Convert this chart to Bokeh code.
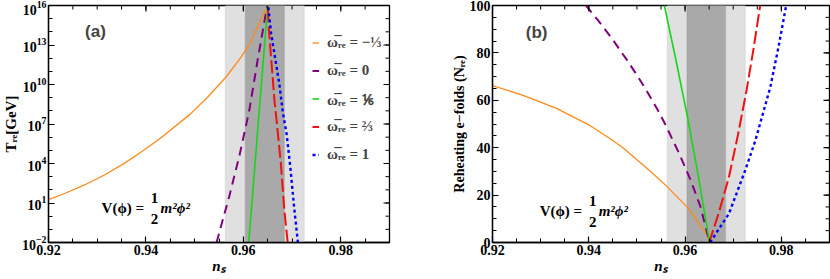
import numpy as np
from bokeh.plotting import figure
from bokeh.models import (FixedTicker, Label, Legend, LegendItem, BoxAnnotation, Range1d)
from bokeh.layouts import row
from bokeh.embed import file_html
from bokeh.resources import INLINE

# ---------------- data ----------------
band_2sigma = [0.9563, 0.9725]
band_1sigma = [0.9604, 0.9684]

# panel (a): log10(T_re / GeV) vs n_s
a_m13_ns = [0.9200, 0.9234, 0.9274, 0.9314, 0.9354, 0.9394, 0.9431, 0.9491, 0.9527, 0.9564,
            0.9594, 0.9614, 0.9650, 0.9656]
a_m13_logT = [1.25, 1.74, 2.37, 3.11, 3.97, 4.97, 5.96, 7.75, 9.05, 10.55, 12.0, 13.15, 16.0, 16.5]
a_0_ns = [0.9545, 0.9571, 0.9592, 0.9612, 0.9630, 0.9649]
a_0_logT = [-2.0, 1.5, 4.6, 8.0, 12.0, 16.0]
a_16_ns = [0.9611, 0.9650]
a_16_logT = [-2.0, 16.0]
a_23_ns = [0.9691, 0.9684, 0.9677, 0.9669, 0.9664, 0.9652, 0.9650]
a_23_logT = [-2.0, 0.5, 4.0, 7.0, 8.7, 14.4, 16.0]
a_1_ns = [0.9712, 0.9704, 0.9697, 0.9689, 0.9681, 0.9674, 0.9657, 0.9651]
a_1_logT = [-2.0, 0.75, 3.5, 6.2, 7.9, 10.0, 13.9, 16.0]

# panel (b): reheating e-folds vs n_s
b_m13_ns = [0.9200, 0.9265, 0.9333, 0.9402, 0.9443, 0.9471, 0.9526, 0.9560, 0.9608, 0.9646, 0.9651]
b_m13_N = [66.2, 62.0, 56.6, 49.4, 44.0, 40.0, 30.4, 24.1, 14.2, 3.0, 0.0]
b_0_ns = [0.9394, 0.9423, 0.9450, 0.9478, 0.9502, 0.9522, 0.9543, 0.9560, 0.9588, 0.9612, 0.9632, 0.9651]
b_0_N = [100.0, 92.8, 85.5, 77.4, 70.0, 63.4, 56.0, 49.4, 37.4, 26.1, 15.1, 0.0]
b_16_ns = [0.9557, 0.9581, 0.9605, 0.9628, 0.9651]
b_16_N = [100.0, 77.0, 53.0, 27.5, 0.0]
b_23_ns = [0.9650, 0.9670, 0.9691, 0.9710, 0.9728, 0.9742, 0.9756]
b_23_N = [0.0, 12.5, 27.5, 45.5, 64.5, 81.5, 100.0]
b_1_ns = [0.9652, 0.9691, 0.9725, 0.9746, 0.9777, 0.9794, 0.9810]
b_1_N = [0.0, 12.1, 30.5, 43.0, 65.5, 82.4, 100.0]

legend_labels = ["ω̅ᵣₑ = −⅓", "ω̅ᵣₑ = 0", "ω̅ᵣₑ = ⅙", "ω̅ᵣₑ = ⅔", "ω̅ᵣₑ = 1"]

x_major = [0.92, 0.94, 0.96, 0.98]
x_minor = [0.92, 0.925, 0.93, 0.935, 0.94, 0.945, 0.95, 0.955, 0.96, 0.965, 0.97, 0.975, 0.98, 0.985, 0.99]
ya_major_exp = [-2, 1, 4, 7, 10, 13, 16]
ya_minor_exp = list(range(-2, 17))
yb_major = [0, 20, 40, 60, 80, 100]
yb_minor = list(range(0, 101, 5))

# ---------------- styles ----------------
SERIF = "Liberation Serif"
styles = [
    dict(line_color="#ff8a1a", line_width=1.3),
    dict(line_color="#800080", line_width=2.0, line_dash="9 6"),
    dict(line_color="#16d616", line_width=1.6),
    dict(line_color="#f01010", line_width=2.0, line_dash="13 4"),
    dict(line_color="#0000ff", line_width=2.4, line_dash="3 3"),
]


def style_axis(ax):
    ax.axis_line_color = "black"
    ax.axis_line_width = 1.3
    ax.major_tick_in = 6
    ax.major_tick_out = 0
    ax.minor_tick_in = 4
    ax.minor_tick_out = 0
    ax.major_tick_line_color = "black"
    ax.minor_tick_line_color = "black"
    ax.major_tick_line_width = 1.2
    ax.minor_tick_line_width = 1.0
    ax.major_label_text_font = SERIF
    ax.major_label_text_font_style = "bold"
    ax.major_label_text_color = "black"
    ax.major_label_text_font_size = "14px"
    ax.axis_label_text_font = SERIF
    ax.axis_label_text_font_style = "bold"
    ax.axis_label_text_color = "black"
    ax.axis_label_text_font_size = "15px"
    ax.major_label_standoff = 2
    ax.axis_label_standoff = 0


def mirror_ticks(p, xmaj, xmin, ymaj, ymin, xtop, yright):
    # inward ticks on the top and right frame edges
    p.ray(x=xmaj, y=[xtop] * len(xmaj), length=6, angle=-np.pi / 2, length_units="screen",
          line_color="black", line_width=1.2)
    p.ray(x=xmin, y=[xtop] * len(xmin), length=4, angle=-np.pi / 2, length_units="screen",
          line_color="black", line_width=1.0)
    p.ray(x=[yright] * len(ymaj), y=ymaj, length=6, angle=np.pi, length_units="screen",
          line_color="black", line_width=1.2)
    p.ray(x=[yright] * len(ymin), y=ymin, length=4, angle=np.pi, length_units="screen",
          line_color="black", line_width=1.0)


def add_bands(p):
    p.add_layout(BoxAnnotation(left=band_2sigma[0], right=band_2sigma[1], fill_color="#e0e0e0",
                               fill_alpha=1.0, line_color="#c6c6c6", line_width=1.5, level="underlay"))
    p.add_layout(BoxAnnotation(left=band_1sigma[0], right=band_1sigma[1], fill_color="#a9a9a9",
                               fill_alpha=1.0, line_color="#8e8e8e", line_width=1.5, level="underlay"))


def add_potential(p, x, y):
    common = dict(text_font=SERIF, text_font_size="15px", text_color="black",
                  text_baseline="middle", x=x, y=y)
    p.add_layout(Label(text="V(ϕ) =", text_font_style="bold", **common))
    p.add_layout(Label(text="1", text_font_style="bold", text_align="center",
                       x_offset=53, y_offset=10, **common))
    p.add_layout(Label(text="2", text_font_style="bold", text_align="center",
                       x_offset=53, y_offset=-11, **common))
    p.add_layout(Label(text="m²ϕ²", text_font_style="bold italic", x_offset=59, **common))


# ---------------- panel (a) ----------------
pa = figure(width=399, height=278, output_backend="svg", toolbar_location=None,
            y_axis_type="log", x_range=Range1d(0.92, 0.99), y_range=Range1d(1e-2, 1e16),
            min_border_left=43, min_border_right=10, min_border_top=5, min_border_bottom=30)
pa.grid.visible = False
pa.outline_line_color = "black"
pa.outline_line_width = 1.3
add_bands(pa)

a_series = [(a_m13_ns, a_m13_logT), (a_0_ns, a_0_logT), (a_16_ns, a_16_logT),
            (a_23_ns, a_23_logT), (a_1_ns, a_1_logT)]
renderers = []
for (xs, ls), st in zip(a_series, styles):
    renderers.append(pa.line(xs, [10.0 ** v for v in ls], **st))

ya_major = [10.0 ** e for e in ya_major_exp]
ya_minor = [10.0 ** e for e in ya_minor_exp]
pa.xaxis.ticker = FixedTicker(ticks=x_major, minor_ticks=x_minor)
pa.yaxis.ticker = FixedTicker(ticks=ya_major, minor_ticks=ya_minor)
pa.xaxis.axis_label = "nₛ"
pa.yaxis.axis_label = "Tᵣₑ[GeV]"
style_axis(pa.xaxis[0])
style_axis(pa.yaxis[0])
pa.xaxis.axis_label_text_font_style = "bold italic"
mirror_ticks(pa, x_major, x_minor, ya_major, ya_minor, 1e16, 0.99)

legend = Legend(items=[LegendItem(label=lab, renderers=[r]) for lab, r in zip(legend_labels, renderers)],
                location=(264, 77), background_fill_alpha=0, border_line_alpha=0,
                label_text_font=SERIF, label_text_font_style="bold", label_text_font_size="15px",
                glyph_width=7, glyph_height=21, label_height=21, spacing=7, padding=0, margin=0,
                label_standoff=8)
pa.add_layout(legend)

pa.add_layout(Label(x=0.9275, y=10 ** 14.0, text="(a)", text_font="Liberation Sans",
                    text_font_style="bold", text_font_size="17px", text_baseline="middle"))
add_potential(pa, 0.9309, 10 ** 0.6)

# ---------------- panel (b) ----------------
pb = figure(width=431, height=278, output_backend="svg", toolbar_location=None,
            x_range=Range1d(0.92, 0.99), y_range=Range1d(0, 100),
            min_border_left=93, min_border_right=1, min_border_top=5, min_border_bottom=36)
pb.grid.visible = False
pb.outline_line_color = "black"
pb.outline_line_width = 1.3
add_bands(pb)
b_series = [(b_m13_ns, b_m13_N), (b_0_ns, b_0_N), (b_16_ns, b_16_N), (b_23_ns, b_23_N), (b_1_ns, b_1_N)]
for (xs, ys), st in zip(b_series, styles):
    pb.line(xs, ys, **st)

pb.xaxis.ticker = FixedTicker(ticks=x_major, minor_ticks=x_minor)
pb.yaxis.ticker = FixedTicker(ticks=yb_major, minor_ticks=yb_minor)
pb.xaxis.axis_label = "nₛ"
pb.yaxis.axis_label = "Reheating e−folds (Nᵣₑ)"
style_axis(pb.xaxis[0])
style_axis(pb.yaxis[0])
pb.yaxis.axis_label_text_font_size = "14px"
pb.xaxis.axis_label_text_font_style = "bold italic"
mirror_ticks(pb, x_major, x_minor, yb_major, yb_minor, 100, 0.99)

pb.add_layout(Label(x=0.9269, y=88.6, text="(b)", text_font="Liberation Sans",
                    text_font_style="bold", text_font_size="17px", text_baseline="middle"))
add_potential(pb, 0.9298, 13.5)

layout = row(pa, pb)
open("out.html", "w").write(file_html(layout, INLINE))
